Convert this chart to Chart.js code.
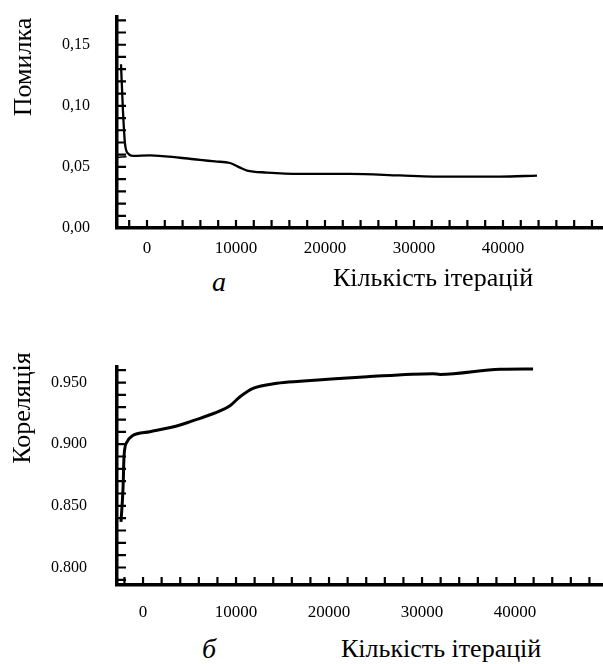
<!DOCTYPE html>
<html>
<head>
<meta charset="utf-8">
<script src="https://cdn.jsdelivr.net/npm/chart.js@4.4.0/dist/chart.umd.min.js"></script>
<style>
  html, body { margin: 0; padding: 0; background: #fff; }
  #page { position: relative; width: 603px; height: 664px; overflow: hidden; font-family: "Liberation Serif", serif; color: #000; }
  .box { position: absolute; left: 0; width: 603px; }
  .ytitle { position: absolute; font-size: 26px; line-height: 1; white-space: nowrap; transform: translate(-50%, -50%) rotate(-90deg); }
  .cap { position: absolute; font-size: 26px; line-height: 1; white-space: nowrap; }
  .letter { font-style: italic; font-size: 28px; }
</style>
</head>
<body>
<div id="page">
  <div class="box" style="top:0; height:265px"><canvas id="errChart"></canvas></div>
  <div class="box" style="top:350px; height:275px"><canvas id="corrChart"></canvas></div>
  <div class="ytitle" style="left:23px; top:67px">Помилка</div>
  <div class="ytitle" style="left:22px; top:408px">Кореляція</div>
  <div class="cap letter" style="left:212px; top:268px">а</div>
  <div class="cap" style="left:333px; top:265px">Кількість ітерацій</div>
  <div class="cap letter" style="left:202px; top:635px">б</div>
  <div class="cap" style="left:341px; top:636px">Кількість ітерацій</div>
</div>
<script>
// values
var iterTicks = [0, 10000, 20000, 30000, 40000];
var errTicks = [0, 0.05, 0.10, 0.15];
var corrTicks = [0.80, 0.85, 0.90, 0.95];

var errIter = [-2920, -2700, -2470, -2130, -1570, 340, 3710, 5960, 7640, 9330, 10450, 11240, 13480, 17190, 22810, 28430, 32130, 39660, 43820];
var errValue = [0.134, 0.096, 0.069, 0.061, 0.059, 0.0595, 0.0575, 0.0557, 0.0545, 0.0532, 0.0494, 0.047, 0.0454, 0.0443, 0.0443, 0.043, 0.0421, 0.0421, 0.0429];
// short stroke joining the curve to the axis
var errStubIter = [-3370, -2300];
var errStubValue = [0.0577, 0.0584];

var corrIter = [-2370, -2150, -2040, -1720, -1180, 750, 3980, 6130, 8280, 9350, 10430, 11830, 14410, 16880, 24090, 31180, 31940, 38390, 41940];
var corrValue = [0.837, 0.8645, 0.891, 0.9018, 0.9067, 0.9101, 0.9156, 0.921, 0.927, 0.9312, 0.9385, 0.9453, 0.9494, 0.951, 0.9547, 0.9572, 0.9566, 0.9607, 0.961];

Chart.defaults.font.family = '"Liberation Serif", serif';
Chart.defaults.color = '#000';
Chart.defaults.animation = false;

function isIn(list, v) {
  return list.some(function (t) { return Math.abs(t - v) < 1e-6; });
}

function toPoints(xs, ys) {
  return xs.map(function (x, i) { return {x: x, y: ys[i]}; });
}

// minor ticks every `step`, labels only where the figure has them
function stepTicks(step) {
  return function (s) {
    var out = [];
    for (var k = Math.ceil(s.min / step - 1e-9); k * step <= s.max + 1e-9; k++) {
      out.push({ value: Math.round(k * step * 1e6) / 1e6 });
    }
    s.ticks = out;
  };
}

// small tick marks drawn on the inner side of both axes
var innerTicks = {
  id: 'innerTicks',
  afterDraw(chart) {
    var ctx = chart.ctx, area = chart.chartArea;
    ctx.save();
    ctx.strokeStyle = '#000';
    ctx.lineWidth = 2.2;
    ctx.beginPath();
    chart.scales.x.ticks.forEach(function (t) {
      var px = chart.scales.x.getPixelForValue(t.value);
      if (px < area.left + 4) return;
      ctx.moveTo(px, area.bottom);
      ctx.lineTo(px, area.bottom - 8);
    });
    chart.scales.y.ticks.forEach(function (t) {
      var py = chart.scales.y.getPixelForValue(t.value);
      if (py > area.bottom - 4) return;
      ctx.moveTo(area.left, py);
      ctx.lineTo(area.left + 9, py);
    });
    ctx.stroke();
    ctx.restore();
  }
};

function makeChart(id, datasets, opt) {
  return new Chart(document.getElementById(id), {
    type: 'line',
    data: {
      datasets: datasets.map(function (d) {
        return {
          data: d.points,
          borderColor: '#000',
          borderWidth: d.width,
          pointRadius: 0,
          cubicInterpolationMode: 'monotone',
          fill: false
        };
      })
    },
    options: {
      responsive: true,
      maintainAspectRatio: false,
      layout: { padding: { top: 17, right: 0, bottom: 0, left: 0 } },
      plugins: { legend: { display: false }, tooltip: { enabled: false } },
      scales: {
        x: {
          type: 'linear',
          min: opt.xMin, max: opt.xMax,
          grid: { display: false, drawTicks: false, tickLength: 0 },
          border: { display: true, color: '#000', width: 3.5 },
          afterBuildTicks: stepTicks(2000),
          ticks: {
            autoSkip: false, maxRotation: 0, padding: opt.xPad,
            font: { size: 17 },
            callback: function (v) { return isIn(iterTicks, v) ? String(v) : ''; }
          },
          afterFit: function (s) { s.height = opt.xHeight; s.paddingLeft = 0; s.paddingRight = 0; }
        },
        y: {
          min: opt.yMin, max: opt.yMax,
          grid: { display: false, drawTicks: false, tickLength: 0 },
          border: { display: true, color: '#000', width: 3.5 },
          afterBuildTicks: stepTicks(0.01),
          ticks: {
            autoSkip: false, padding: opt.yPad,
            font: { size: 16 },
            callback: function (v) { return isIn(opt.labels, v) ? opt.fmt(v) : ''; }
          },
          afterFit: function (s) { s.width = 117; s.paddingTop = 0; s.paddingBottom = 0; }
        }
      }
    },
    plugins: [innerTicks]
  });
}

makeChart('errChart', [
  { points: toPoints(errIter, errValue), width: 2.3 },
  { points: toPoints(errStubIter, errStubValue), width: 1.5 }
], {
  xMin: -3370, xMax: 51240, yMin: 0, yMax: 0.1727,
  xHeight: 37, xPad: 10, yPad: 27, labels: errTicks,
  fmt: function (v) { return v.toFixed(2).replace('.', ','); }
});

makeChart('corrChart', [
  { points: toPoints(corrIter, corrValue), width: 3 }
], {
  xMin: -2800, xMax: 49460, yMin: 0.7858, yMax: 0.9626,
  xHeight: 40, xPad: 17, yPad: 30, labels: corrTicks,
  fmt: function (v) { return v.toFixed(3); }
});
</script>
</body>
</html>
